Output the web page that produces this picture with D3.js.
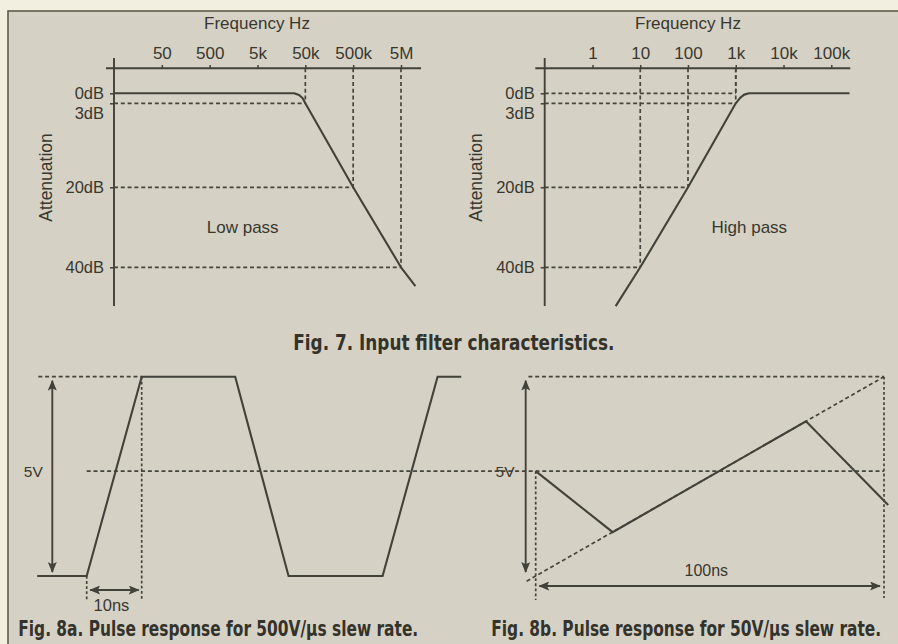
<!DOCTYPE html>
<html>
<head>
<meta charset="utf-8">
<script src="https://cdn.jsdelivr.net/npm/d3@7/dist/d3.min.js"></script>
<style>
  html, body { margin: 0; padding: 0; background: #f3efe0; }
  svg { display: block; }
  .lbl { font-family: "Liberation Sans", Arial, Helvetica, sans-serif; fill: #38382f; }
  .cap { font-family: "Liberation Sans Narrow", "DejaVu Sans Condensed", "Liberation Sans", sans-serif;
         font-weight: bold; font-stretch: condensed; fill: #33332b; }
</style>
</head>
<body>
<svg id="chart" width="898" height="644"></svg>
<script>
// ---- Fig. 7 data: filter attenuation vs frequency ----
const lowFreqTicks  = [50, 500, 5000, 50000, 500000, 5000000];
const lowFreqLabels = ["50", "500", "5k", "50k", "500k", "5M"];
const highFreqTicks  = [1, 10, 100, 1000, 10000, 100000];
const highFreqLabels = ["1", "10", "100", "1k", "10k", "100k"];
const dbTicks  = [0, 3, 20, 40];
const dbLabels = ["0dB", "3dB", "20dB", "40dB"];

// [frequency Hz, attenuation dB]
const lowPassCurve  = [[5, 0], [29000, 0], [37000, 0.5], [44000, 1.5], [50000, 3],
                       [500000, 20], [5000000, 40], [10000000, 44.7]];
const highPassCurve = [[3.06, 49.7], [10, 40], [100, 20], [1000, 3],
                       [1250, 1.3], [1500, 0.4], [1900, 0], [240000, 0]];
const lowPassMarks  = [[50000, 3], [500000, 20], [5000000, 40]];
const highPassMarks = [[1000, 0], [1000, 3], [100, 20], [10, 40]];

// ---- Fig. 8 data: pulse responses [time ns, volts] ----
const fastPulse = [[-9, 0], [0, 0], [10, 5], [27, 5], [36.7, 0], [53.8, 0], [63.8, 5], [68.1, 5]];
const slowPulse = [[0, 2.63], [22.1, 1.1], [77.6, 3.88], [101.2, 1.78]];
const slewRamp  = [[-2.6, -0.13], [100, 5]];
const midLevel  = 2.63;
const swing     = [0, 5];

const captions = {
  fig7:  "Fig. 7. Input filter characteristics.",
  fig8a: "Fig. 8a. Pulse response for 500V/\u03BCs slew rate.",
  fig8b: "Fig. 8b. Pulse response for 50V/\u03BCs slew rate."
};

const svg = d3.select("#chart");
const INK = "#42423a";

// page background and frame
svg.append("rect").attr("x", 0).attr("y", 0).attr("width", 898).attr("height", 644).attr("fill", "#f3efe0");
svg.append("rect").attr("x", 8).attr("y", 11).attr("width", 900).attr("height", 640)
  .attr("fill", "#d6d1c5").attr("stroke", "#5c5c4a").attr("stroke-width", 1.6);

// arrowhead marker
const defs = svg.append("defs");
defs.append("marker").attr("id", "ah")
  .attr("viewBox", "0 0 12 10").attr("refX", 11).attr("refY", 5)
  .attr("markerWidth", 11).attr("markerHeight", 9).attr("markerUnits", "userSpaceOnUse")
  .attr("orient", "auto-start-reverse")
  .append("path").attr("d", "M0,0 L12,5 L0,10 L2.5,5 Z").attr("fill", INK);

const dashed = sel => sel.attr("stroke", "#46463d").attr("stroke-width", 1.7)
  .attr("stroke-dasharray", "4,2.8").attr("fill", "none");

// ---------- Fig. 7 panels ----------
const yDb = d3.scaleLinear().domain([0, 3, 20, 40]).range([93.3, 103.3, 187.3, 267.3]);

function filterPanel(cfg) {
  const g = svg.append("g");
  const x = cfg.x;

  // axis lines
  g.append("line").attr("x1", cfg.xAxisFrom).attr("x2", cfg.xAxisTo)
    .attr("y1", 68.3).attr("y2", 68.3).attr("stroke", INK).attr("stroke-width", 1.9);
  g.append("line").attr("x1", cfg.yAxisAt).attr("x2", cfg.yAxisAt)
    .attr("y1", 58).attr("y2", 306).attr("stroke", INK).attr("stroke-width", 1.9);

  // frequency axis (ticks + labels)
  const xa = g.append("g").attr("transform", "translate(0,69)")
    .call(d3.axisTop(x).tickValues(cfg.ticks).tickFormat((d, i) => cfg.labels[i])
      .tickSizeInner(4).tickSizeOuter(0).tickPadding(6));
  xa.select(".domain").remove();
  xa.selectAll("line").attr("stroke", INK).attr("stroke-width", 1.5);
  xa.selectAll("text").attr("class", "lbl").attr("font-size", 17).attr("fill", "#38382f");

  // attenuation axis
  const ya = g.append("g").attr("transform", `translate(${cfg.yAxisAt},0)`)
    .call(d3.axisLeft(yDb).tickValues(dbTicks).tickFormat((d, i) => dbLabels[i])
      .tickSizeInner(4).tickSizeOuter(0).tickPadding(6));
  ya.select(".domain").remove();
  ya.selectAll("line").attr("stroke", INK).attr("stroke-width", 1.5);
  ya.selectAll("text").attr("class", "lbl").attr("font-size", 16.5).attr("fill", "#38382f")
    .attr("dy", d => d === 3 ? "0.95em" : "0.32em");

  // axis titles and panel name
  g.append("text").attr("class", "lbl").attr("font-size", 17).attr("text-anchor", "middle")
    .attr("x", cfg.titleX).attr("y", 28.5).text("Frequency Hz");
  g.append("text").attr("class", "lbl").attr("font-size", 17.5).attr("text-anchor", "middle")
    .attr("transform", `translate(${cfg.attX},177.5) rotate(-90)`).text("Attenuation");
  g.append("text").attr("class", "lbl").attr("font-size", 17).attr("text-anchor", "middle")
    .attr("x", cfg.nameX).attr("y", 232.7).text(cfg.name);

  // reference markers
  cfg.marks.forEach(([f, db]) => {
    g.append("line").call(dashed)
      .attr("x1", cfg.yAxisAt).attr("x2", x(f)).attr("y1", yDb(db)).attr("y2", yDb(db));
    g.append("line").call(dashed)
      .attr("x1", x(f)).attr("x2", x(f)).attr("y1", 68.3).attr("y2", yDb(db));
  });

  // response curve
  g.append("path").datum(cfg.curve)
    .attr("d", d3.line().x(d => x(d[0])).y(d => yDb(d[1])))
    .attr("fill", "none").attr("stroke", INK).attr("stroke-width", 2.1)
    .attr("stroke-linejoin", "round");
}

filterPanel({
  x: d3.scaleLog().domain([5, 5000000]).range([114, 401]),
  ticks: lowFreqTicks, labels: lowFreqLabels,
  xAxisFrom: 106, xAxisTo: 421, yAxisAt: 114,
  titleX: 257, attX: 52.3, nameX: 242.7, name: "Low pass",
  marks: lowPassMarks, curve: lowPassCurve
});
filterPanel({
  x: d3.scaleLog().domain([0.1, 100000]).range([544.7, 831.3]),
  ticks: highFreqTicks, labels: highFreqLabels,
  xAxisFrom: 535.3, xAxisTo: 850.3, yAxisAt: 544.7,
  titleX: 688, attX: 482.3, nameX: 749.3, name: "High pass",
  marks: highPassMarks, curve: highPassCurve
});

// ---------- Fig. 8 panels ----------
const yV  = d3.scaleLinear().domain(swing).range([576, 376.7]);
const xFa = d3.scaleLinear().domain([0, 10]).range([86.7, 141.7]);
const xFb = d3.scaleLinear().domain([0, 100]).range([535.7, 884]);
const pulseLine = xs => d3.line().x(d => xs(d[0])).y(d => yV(d[1]));
const dotted = sel => sel.call(dashed).attr("stroke-dasharray", "2.8,2.3");

// shared mid-level dashed line
svg.append("line").call(dashed)
  .attr("x1", xFa(0)).attr("x2", xFb(100)).attr("y1", yV(midLevel)).attr("y2", yV(midLevel));

// Fig. 8a
svg.append("line").call(dashed)
  .attr("x1", xFa(-8.8)).attr("x2", xFa(10)).attr("y1", yV(5)).attr("y2", yV(5));
svg.append("line").call(dotted)
  .attr("x1", xFa(10)).attr("x2", xFa(10)).attr("y1", yV(5)).attr("y2", 600);
svg.append("line").call(dotted)
  .attr("x1", xFa(0)).attr("x2", xFa(0)).attr("y1", yV(0)).attr("y2", 600);
svg.append("path").datum(fastPulse).attr("d", pulseLine(xFa))
  .attr("fill", "none").attr("stroke", INK).attr("stroke-width", 2.1);
svg.append("line").attr("x1", 52.3).attr("x2", 52.3).attr("y1", yV(0.1)).attr("y2", yV(4.9))
  .attr("stroke", INK).attr("stroke-width", 1.9)
  .attr("marker-start", "url(#ah)").attr("marker-end", "url(#ah)");
svg.append("line").attr("x1", xFa(0) + 3.5).attr("x2", xFa(10) - 3).attr("y1", 590).attr("y2", 590)
  .attr("stroke", INK).attr("stroke-width", 1.9)
  .attr("marker-start", "url(#ah)").attr("marker-end", "url(#ah)");
svg.append("text").attr("class", "lbl").attr("font-size", 15.5).attr("text-anchor", "middle")
  .attr("x", 33.3).attr("y", 477.3).text("5V");
svg.append("text").attr("class", "lbl").attr("font-size", 16.5).attr("text-anchor", "middle")
  .attr("x", xFa(4.5)).attr("y", 610.7).text("10ns");

// Fig. 8b
svg.append("line").call(dashed)
  .attr("x1", xFb(-2.1)).attr("x2", xFb(100)).attr("y1", yV(5)).attr("y2", yV(5));
svg.append("line").call(dotted)
  .attr("x1", xFb(0)).attr("x2", xFb(0)).attr("y1", yV(midLevel)).attr("y2", 600);
svg.append("line").call(dotted)
  .attr("x1", xFb(100)).attr("x2", xFb(100)).attr("y1", yV(5)).attr("y2", 598);
svg.append("path").datum(slewRamp).attr("d", pulseLine(xFb)).call(dashed);
svg.append("path").datum(slowPulse).attr("d", pulseLine(xFb))
  .attr("fill", "none").attr("stroke", INK).attr("stroke-width", 2.1);
svg.append("line").attr("x1", 525.7).attr("x2", 525.7).attr("y1", yV(0.1)).attr("y2", yV(4.9))
  .attr("stroke", INK).attr("stroke-width", 1.9)
  .attr("marker-start", "url(#ah)").attr("marker-end", "url(#ah)");
svg.append("line").attr("x1", xFb(0) + 3.6).attr("x2", xFb(100) - 4).attr("y1", 586).attr("y2", 586)
  .attr("stroke", INK).attr("stroke-width", 1.9)
  .attr("marker-start", "url(#ah)").attr("marker-end", "url(#ah)");
svg.append("text").attr("class", "lbl").attr("font-size", 15.5).attr("text-anchor", "middle")
  .attr("x", 505).attr("y", 477.3).text("5V");
svg.append("text").attr("class", "lbl").attr("font-size", 16).attr("text-anchor", "middle")
  .attr("x", 706.3).attr("y", 576).text("100ns");

// captions: condensed bold, sized to their measured span and stretched vertically
const CAP_SIZE = 21.5;
[[captions.fig7, 293.3, 350, 321.4],
 [captions.fig8a, 18.3, 636, 400],
 [captions.fig8b, 491.3, 636, 390]].forEach(([t, x, y, w]) => {
  const txt = svg.append("text").attr("class", "cap").attr("font-size", CAP_SIZE)
    .attr("x", 0).attr("y", 0).text(t);
  const natural = txt.node().getComputedTextLength();
  const k = w / natural;
  txt.attr("font-size", CAP_SIZE * k)
    .attr("transform", `translate(${x},${y}) scale(1,${1 / k})`);
});
</script>
</body>
</html>
